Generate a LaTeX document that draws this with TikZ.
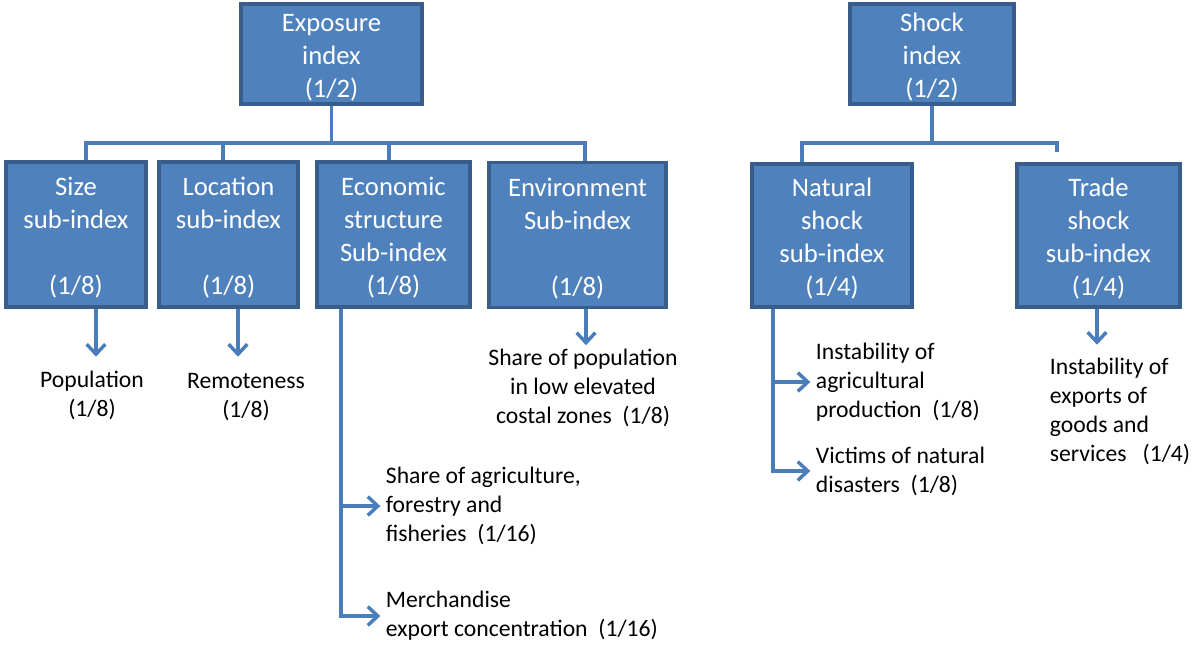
\documentclass[tikz,border=0pt]{standalone}
\usepackage{fontspec}
\setmainfont{Carlito}
\usetikzlibrary{arrows.meta}
\definecolor{boxfill}{HTML}{4F81BD}
\definecolor{boxline}{HTML}{385D8A}
\definecolor{conn}{HTML}{4A7EBB}
\newcommand{\firstln}{\rule{0pt}{19pt}}
\tikzset{
  box/.style={draw=boxline, line width=2.6pt, fill=boxfill, text=white, align=center, inner sep=0pt,
    font=\fontsize{20}{24.75}\selectfont},
  lbl/.style={align=center, inner sep=2pt, font=\fontsize{17.75}{21.75}\selectfont},
  lbll/.style={lbl, align=left, anchor=west},
  line/.style={draw=conn, line width=2.6pt},
  arr/.style={line, -{Straight Barb[length=7.5pt, width=14pt, line width=2.6pt]}},
}
\begin{document}
\begin{tikzpicture}[x=0.75pt, y=-0.75pt]
\useasboundingbox (0,0) rectangle (1197,646);
% top boxes
\node[box, minimum width=135.75pt, minimum height=75pt] (exp) at (331.5,54) {\firstln Exposure\\index\\(1/2)};
\node[box, minimum width=123pt, minimum height=75pt] (shock) at (932,54) {\firstln Shock\\index\\(1/2)};
% sub-index boxes
\node[box, minimum width=105pt, minimum height=108.75pt] (size) at (76,234.5) {\firstln Size\\sub-index\\[24.75pt](1/8)};
\node[box, minimum width=104.25pt, minimum height=108.75pt] (loc) at (228.5,234.5) {\firstln Location\\sub-index\\[24.75pt](1/8)};
\node[box, minimum width=114.75pt, minimum height=108.75pt] (econ) at (393.5,234.5) {\firstln Economic\\structure\\Sub-index\\(1/8)};
\node[box, minimum width=132.75pt, minimum height=108.75pt] (env) at (577.5,235) {\firstln Environment\\Sub-index\\[24.75pt](1/8)};
\node[box, minimum width=120pt, minimum height=107.25pt] (nat) at (832,235.5) {\firstln Natural\\shock\\sub-index\\(1/4)};
\node[box, minimum width=122.25pt, minimum height=107.25pt] (trade) at (1098.5,235.5) {\firstln Trade\\shock\\sub-index\\(1/4)};
% labels
\node[lbl] (pop) at (92,395) {Population\\(1/8)};
\node[lbl] (rem) at (246,397) {Remoteness\\(1/8)};
\node[lbl] (lowel) at (583,388) {Share of population\\in low elevated\\costal zones\ \ (1/8)};
\node[lbll] (agri) at (383,506) {Share of agriculture,\\forestry and\\fisheries\ \ (1/16)};
\node[lbll] (merch) at (383,616) {Merchandise\\export concentration\ \ (1/16)};
\node[lbll] (instag) at (813,382) {Instability of\\agricultural\\production\ \ (1/8)};
\node[lbll] (vict) at (813,471) {Victims of natural\\disasters\ \ (1/8)};
\node[lbll] (instex) at (1047,411) {Instability of\\exports of\\goods and\\services\ \ \ (1/4)};
% bus lines
\coordinate (busE) at (331.5,143);
\coordinate (busS) at (932,143);
\draw[line] (exp.south) -- (busE);
\draw[line] ([xshift=7.5pt]size.north) |- (busE) -| ([xshift=5.625pt]env.north);
\draw[line] ([xshift=-4.125pt]loc.north) |- (busE);
\draw[line] ([xshift=-3.375pt]econ.north) |- (busE);
\draw[line] (shock.south) -- (busS);
\draw[line] ([xshift=-22.5pt]nat.north) |- (busS) -| ([xshift=-31.125pt, yshift=7.5pt]trade.north);
% arrows to indicators
\draw[arr] ([xshift=15pt]size.south) -- ++(0,48);
\draw[arr] ([xshift=7.125pt]loc.south) -- ++(0,48);
\draw[arr] ([xshift=6.375pt]env.south) -- ++(0,36);
\draw[arr] ([xshift=-1.125pt]trade.south) -- ++(0,36);
\draw[arr, shorten >=2pt] ([xshift=-39.375pt]econ.south) |- (agri.west);
\draw[arr, shorten >=2pt] ([xshift=-39.375pt]econ.south) |- (merch.west);
\draw[arr, shorten >=2pt] ([xshift=-44.25pt]nat.south) |- (instag.west);
\draw[arr, shorten >=2pt] ([xshift=-44.25pt]nat.south) |- (vict.west);
\end{tikzpicture}
\end{document}
